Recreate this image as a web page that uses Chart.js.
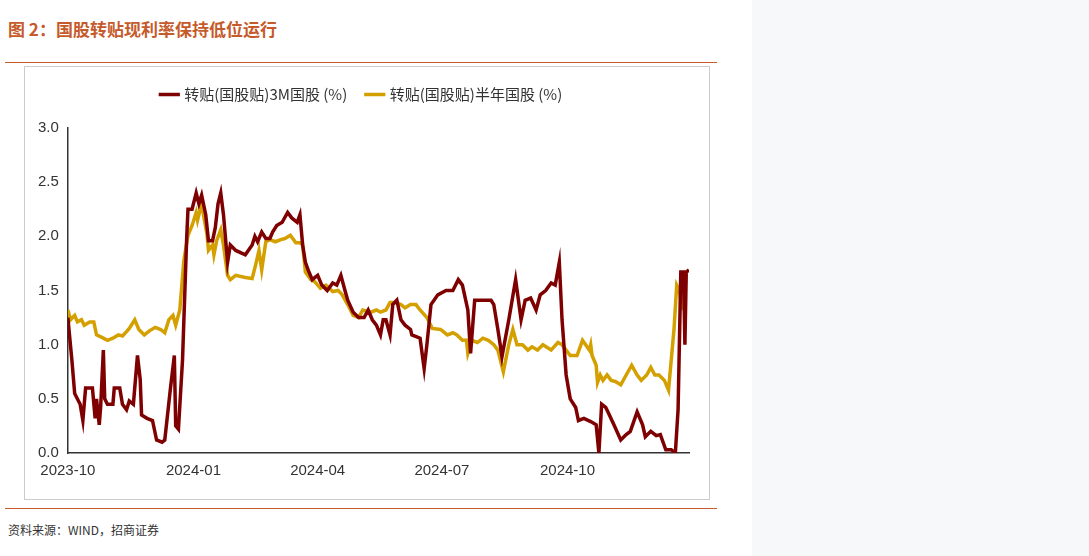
<!DOCTYPE html>
<html lang="zh">
<head>
<meta charset="UTF-8">
<title>国股转贴现利率</title>
<script src="https://cdn.jsdelivr.net/npm/chart.js"></script>
<style>
    body { margin: 0; width: 1089px; height: 556px; background: #fff; position: relative; overflow: hidden;
           font-family: "Noto Sans CJK SC", "Noto Sans", sans-serif; }
    .title { position: absolute; left: 8px; top: 16px; font-size: 17px; font-weight: bold; color: #c55a2b; }
    .rule { position: absolute; left: 5px; width: 712px; height: 1px; background: #c55a2b; }
    .box { position: absolute; left: 24px; top: 66px; width: 686px; height: 434px; border: 1px solid #ccc; box-sizing: border-box; }
    .src { position: absolute; left: 8px; top: 521px; font-size: 12px; color: #333; }
    .side { position: absolute; left: 752px; top: 0; width: 337px; height: 556px; background: #f7f8fa; }
</style>
</head>
<body>
<div class="title">图 2：国股转贴现利率保持低位运行</div>
<div class="rule" style="top:62px"></div>
<div class="box"><canvas id="c" width="684" height="432"></canvas></div>
<div class="rule" style="top:508px"></div>
<div class="src">资料来源：WIND，招商证券</div>
<div class="side"></div>
<script>
// x values are days since 2023-10-01
var tickDays = [0, 92, 183, 274, 366];
var tickLabels = ['2023-10', '2024-01', '2024-04', '2024-07', '2024-10'];

var days3M = [0,3,5,9,11,13,16,18,20,21,23,24,26,27,29,33,34,38,40,43,45,48,51,53,54,58,62,65,69,71,75,78,79,81,84,87,88,91,94,96,98,101,103,106,108,110,112,114,117,119,123,130,135,137,139,142,145,148,150,153,157,161,164,168,170,172,174,176,179,183,186,190,194,197,200,203,205,209,213,217,220,223,226,229,231,233,236,238,241,244,247,251,252,258,261,263,266,271,277,282,286,289,293,295,298,302,310,312,315,318,323,328,332,335,339,343,346,350,354,357,360,362,365,368,372,374,378,383,387,389,391,394,396,400,405,409,412,417,421,423,427,431,434,438,442,445,447,449,451,452,453,455];
var rate3M = [1.25,0.85,0.55,0.45,0.3,0.6,0.6,0.6,0.32,0.5,0.26,0.42,0.95,0.5,0.45,0.45,0.6,0.6,0.45,0.4,0.48,0.45,0.9,0.68,0.35,0.32,0.3,0.12,0.1,0.12,0.58,0.9,0.25,0.22,0.86,1.97,2.25,2.25,2.4,2.3,2.38,2.2,1.96,1.96,2.08,2.3,2.4,2.2,1.76,1.92,1.87,1.83,1.92,2.0,1.95,2.04,1.98,1.98,2.04,2.1,2.13,2.22,2.17,2.13,2.2,1.92,1.76,1.69,1.6,1.64,1.55,1.5,1.57,1.55,1.64,1.5,1.41,1.3,1.25,1.25,1.32,1.23,1.18,1.09,1.23,1.23,1.09,1.37,1.41,1.23,1.18,1.14,1.09,1.06,0.78,1.0,1.37,1.46,1.5,1.5,1.6,1.55,1.32,0.92,1.41,1.41,1.41,1.37,1.14,0.89,1.23,1.6,1.23,1.41,1.43,1.32,1.46,1.5,1.57,1.55,1.76,1.23,0.72,0.5,0.42,0.3,0.32,0.29,0.26,0.0,0.45,0.42,0.37,0.26,0.12,0.17,0.2,0.38,0.26,0.15,0.2,0.16,0.17,0.03,0.03,0.0,0.4,1.67,1.67,1.0,1.67,1.69];

var days6M = [0,2,5,7,10,12,16,19,21,26,29,33,37,40,43,45,49,52,56,60,64,68,71,74,77,79,82,85,88,91,94,95,98,100,102,103,106,107,109,112,114,117,119,123,130,135,138,140,142,145,148,152,156,159,163,167,170,172,174,178,181,185,189,194,198,201,205,209,213,216,222,226,229,233,236,240,244,247,251,255,258,263,267,273,278,282,285,289,292,293,296,300,304,308,312,315,319,323,326,329,333,337,340,344,348,354,359,362,365,368,373,377,382,383,384,387,388,390,392,395,398,401,405,409,413,417,420,424,427,430,433,437,440,444,446,448,450,451,453,455];
var rate6M = [1.32,1.23,1.27,1.21,1.23,1.18,1.21,1.21,1.09,1.06,1.04,1.06,1.09,1.08,1.12,1.15,1.23,1.14,1.09,1.13,1.16,1.14,1.11,1.23,1.27,1.18,1.32,1.78,2.01,2.1,2.22,2.15,2.3,2.15,2.01,1.87,1.92,1.83,1.96,2.06,1.92,1.64,1.6,1.64,1.62,1.61,1.76,1.87,1.69,1.95,1.97,1.95,1.97,1.98,2.01,1.94,1.94,1.92,1.67,1.6,1.58,1.52,1.55,1.49,1.5,1.46,1.37,1.27,1.25,1.32,1.3,1.32,1.3,1.32,1.39,1.39,1.37,1.34,1.37,1.37,1.32,1.25,1.15,1.14,1.09,1.11,1.09,1.04,1.04,0.92,1.04,1.02,1.06,1.04,1.0,0.95,0.75,1.0,1.14,1.0,1.0,0.95,0.98,0.95,1.0,0.95,1.02,1.0,0.95,0.9,0.9,1.04,0.95,1.0,0.9,0.81,0.65,0.72,0.67,0.72,0.67,0.66,0.63,0.72,0.81,0.72,0.67,0.72,0.79,0.72,0.72,0.67,0.58,1.14,1.55,1.5,1.32,1.6,1.58];

function pts(xs, ys) { return xs.map(function (d, i) { return {x: d, y: ys[i]}; }); }

Chart.defaults.font.family = '"Noto Sans CJK SC", "Noto Sans", sans-serif';
Chart.defaults.color = '#333';

// extra room under the legend
var legendGap = {
    id: 'legendGap',
    beforeInit: function (chart) {
        var fit = chart.legend.fit;
        chart.legend.fit = function () { fit.bind(chart.legend)(); this.height += 16; };
    }
};

var tickFont = {size: 15, family: '"Liberation Sans", Arial, sans-serif'};

new Chart(document.getElementById('c').getContext('2d'), {
    type: 'line',
    data: {
        datasets: [
            {label: '转贴(国股贴)3M国股 (%)', data: pts(days3M, rate3M), borderColor: '#7f0000', backgroundColor: '#7f0000',
             borderWidth: 3.5, pointRadius: 0, tension: 0},
            {label: '转贴(国股贴)半年国股 (%)', data: pts(days6M, rate6M), borderColor: '#d4a000', backgroundColor: '#d4a000',
             borderWidth: 3.5, pointRadius: 0, tension: 0}
        ]
    },
    options: {
        responsive: false,
        animation: false,
        layout: {padding: {left: 10, right: 20, top: 0, bottom: 16}},
        plugins: {
            legend: {
                labels: {usePointStyle: true, pointStyle: 'line', boxWidth: 40, font: {size: 15}, padding: 20},
            },
            tooltip: {enabled: false}
        },
        scales: {
            x: {
                type: 'linear', min: 0, max: 455,
                grid: {display: false, drawTicks: true, tickLength: 6, tickColor: '#333'},
                border: {color: '#333', width: 1.5},
                afterBuildTicks: function (ax) { ax.ticks = tickDays.map(function (v) { return {value: v}; }); },
                ticks: {font: tickFont, maxRotation: 0, autoSkip: false,
                        callback: function (v) { var i = tickDays.indexOf(v); return i < 0 ? '' : tickLabels[i]; }}
            },
            y: {
                min: 0, max: 3,
                grid: {display: false, drawTicks: true, tickLength: 6, tickColor: '#333'},
                border: {color: '#333', width: 1.5},
                ticks: {stepSize: 0.5, font: tickFont, callback: function (v) { return v.toFixed(1); }}
            }
        }
    },
    plugins: [legendGap]
});
</script>
</body>
</html>
